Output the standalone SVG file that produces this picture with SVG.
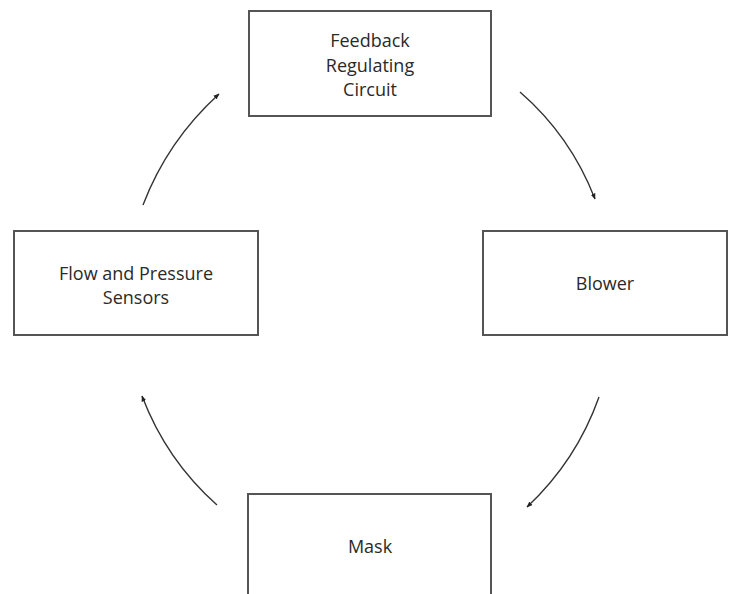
<svg xmlns="http://www.w3.org/2000/svg" width="732" height="594" viewBox="0 0 732 594">
<style>
.box{fill:#fff;stroke:#555;stroke-width:2}
.lbl{font-family:"Open Sans","Noto Sans",sans-serif;font-size:18px;fill:#2a2a2a;text-anchor:middle}
.conn{fill:none;stroke:#333;stroke-width:1.4}
</style>
<defs>
<marker id="ah" viewBox="0 0 10 10" refX="9" refY="5" markerWidth="6" markerHeight="6" orient="auto" markerUnits="userSpaceOnUse">
<path d="M0,1 L10,5 L0,9 Z" fill="#222"/>
</marker>
</defs>
<rect width="732" height="594" fill="#fff"/>
<g id="feedback">
<rect class="box" x="249" y="11" width="242" height="105"/>
<text class="lbl" x="370" y="47">Feedback</text>
<text class="lbl" x="370" y="72">Regulating</text>
<text class="lbl" x="370" y="96">Circuit</text>
</g>
<g id="sensors">
<rect class="box" x="14" y="231" width="244" height="104"/>
<text class="lbl" x="136" y="280">Flow and Pressure</text>
<text class="lbl" x="136" y="304">Sensors</text>
</g>
<g id="blower">
<rect class="box" x="483" y="231" width="244" height="104"/>
<text class="lbl" x="605" y="290">Blower</text>
</g>
<g id="mask">
<rect class="box" x="248" y="494" width="243" height="110"/>
<text class="lbl" x="370" y="553">Mask</text>
</g>
<g id="connectors">
<path class="conn" d="M520,92 Q570.5,135.8 595,199" marker-end="url(#ah)"/>
<path class="conn" d="M599,397 Q576.4,460.8 527,507" marker-end="url(#ah)"/>
<path class="conn" d="M217,505 Q166.4,460.1 142,396" marker-end="url(#ah)"/>
<path class="conn" d="M143,205 Q167.5,140.8 219,94" marker-end="url(#ah)"/>
</g>
</svg>
